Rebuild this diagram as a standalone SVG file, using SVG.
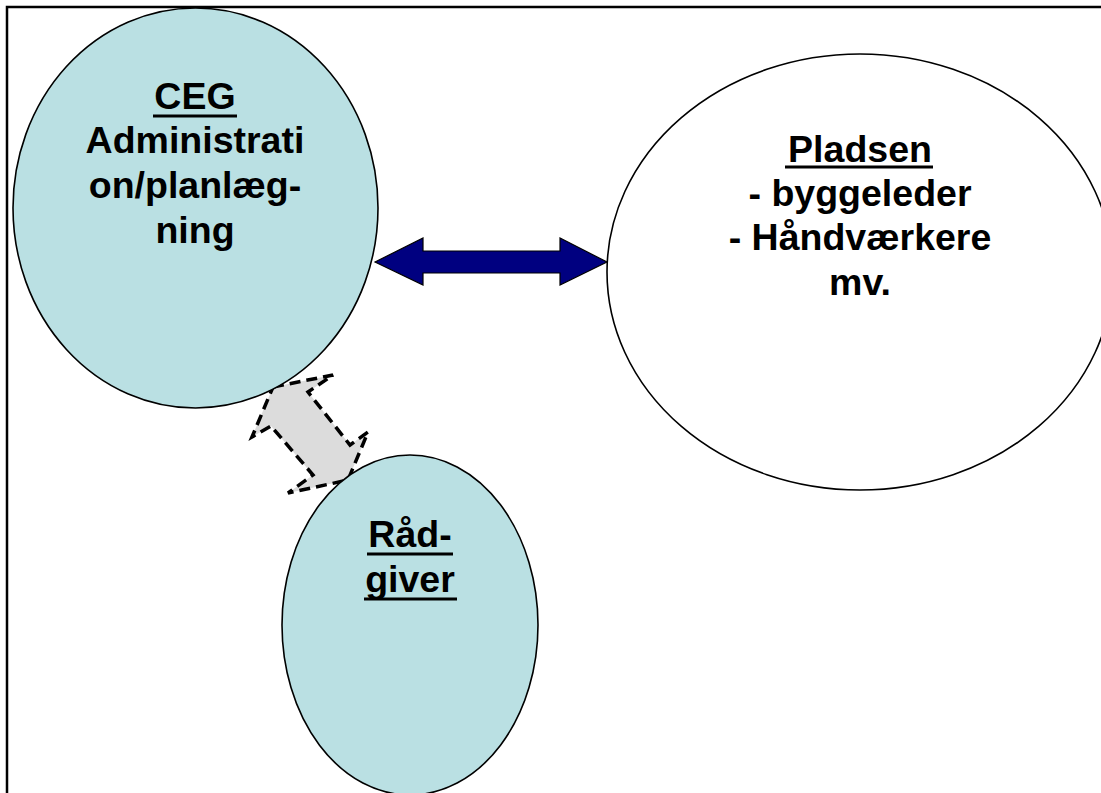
<svg xmlns="http://www.w3.org/2000/svg" width="1101" height="793" viewBox="0 0 1101 793">
<style>
.node{fill:#bae0e3;stroke:#000;stroke-width:1.6}
.white{fill:#fff;stroke:#000;stroke-width:1.6}
.lbl{font-family:"Liberation Sans",Arial,sans-serif;font-weight:bold;font-size:37.5px;fill:#000;text-anchor:middle}
.ul{stroke:#000;stroke-width:3}
</style>
<rect x="0" y="0" width="1101" height="793" fill="#fff"/>
<rect x="7" y="7" width="1110" height="800" fill="none" stroke="#000" stroke-width="2.5"/>
<g id="connectors">
<polygon points="273,387 333,375 308,392 350,445 368,432 348,480 288,493 313,475 271,426 252,437" fill="#dcdcdc" stroke="#000" stroke-width="3.5" stroke-dasharray="11,6"/>
<polygon points="375,262 423,238 423,251 560,251 560,238 607,262 560,285 560,273 423,273 423,285" fill="#000080" stroke="#000" stroke-width="1.2"/>
</g>
<g id="ceg">
<ellipse class="node" cx="195.5" cy="208" rx="182.5" ry="200"/>
<text class="lbl" x="195" y="109">CEG</text>
<line class="ul" x1="153" y1="116" x2="237" y2="116"/>
<text class="lbl" x="195" y="153">Administrati</text>
<text class="lbl" x="195" y="198">on/planlæg-</text>
<text class="lbl" x="195" y="243">ning</text>
</g>
<g id="pladsen">
<ellipse class="white" cx="860" cy="272" rx="253" ry="218"/>
<text class="lbl" x="860" y="161.5">Pladsen</text>
<line class="ul" x1="785" y1="167" x2="933" y2="167"/>
<text class="lbl" x="860" y="205.5">- byggeleder</text>
<text class="lbl" x="860" y="250">- Håndværkere</text>
<text class="lbl" x="860" y="295">mv.</text>
</g>
<g id="raadgiver">
<ellipse class="node" cx="410" cy="625" rx="128" ry="170"/>
<text class="lbl" x="410" y="547">Råd-</text>
<line class="ul" x1="367" y1="554" x2="453" y2="554"/>
<text class="lbl" x="410" y="592">giver</text>
<line class="ul" x1="364" y1="599" x2="457" y2="599"/>
</g>
</svg>
